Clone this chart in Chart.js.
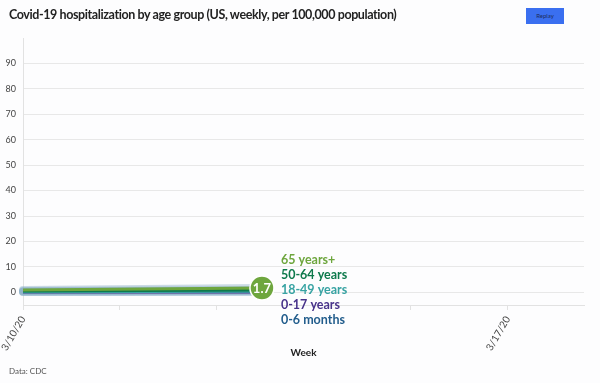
<!DOCTYPE html>
<html>
<head>
<meta charset="utf-8">
<script src="https://cdn.jsdelivr.net/npm/chart.js@4/dist/chart.umd.min.js"></script>
<style>
  html, body { margin:0; padding:0; background:#fdfdfe; }
  #wrap { position:relative; width:600px; height:383px; overflow:hidden; font-family:Lato, sans-serif; }
  #title { position:absolute; left:9px; top:7px; font-size:12.5px; letter-spacing:-0.4px; font-weight:700; color:#222; white-space:nowrap; }
  #btn { position:absolute; left:526px; top:8px; width:38px; height:16px; background:#3a6ff0; color:#1d2b5c; font-size:6px; line-height:16px; text-align:center; }
  #src { position:absolute; left:9px; top:366px; font-size:8px; color:#555; }
  canvas { position:absolute; left:0; top:0; }
</style>
</head>
<body>
<div id="wrap">
  <canvas id="c" width="600" height="383"></canvas>
  <div id="title">Covid-19 hospitalization by age group (US, weekly, per 100,000 population)</div>
  <div id="btn">Replay</div>
  <div id="src">Data: CDC</div>
</div>
<script>
// ---- data ----
const seriesNames = ['65 years+', '50-64 years', '18-49 years', '0-17 years', '0-6 months'];
const seriesColors = ['#6ea63e', '#0e7a4c', '#38a3a3', '#48338a', '#225d8c'];
const xDays = [0, 3.45];              // days since 3/10/20 (animation frame position)
const v65plus  = [0.9, 1.7];
const v50to64  = [0.5, 0.9];
const v18to49  = [0.2, 0.4];
const v0to17   = [0.1, 0.1];
const v0to6m   = [0.3, 0.5];
const xTickValues = [0, 1.4, 2.8, 4.2, 5.6, 7];
const xTickLabels = ['3/10/20', '', '', '', '', '3/17/20'];
const yTicks = [0, 10, 20, 30, 40, 50, 60, 70, 80, 90];

const seriesValues = [v65plus, v50to64, v18to49, v0to17, v0to6m];

const datasets = seriesNames.map((name, i) => ({
  label: name,
  data: xDays.map((x, j) => ({ x: x, y: seriesValues[i][j] })),
  borderColor: seriesColors[i],
  backgroundColor: seriesColors[i],
  borderWidth: 3,
  pointRadius: 0,
  tension: 0
}));

const haloPlugin = {
  id: 'halo',
  beforeDatasetsDraw(chart) {
    const ctx = chart.ctx;
    ctx.save();
    ctx.lineCap = 'round';
    ctx.lineJoin = 'round';
    ctx.strokeStyle = 'rgba(140,175,200,0.45)';
    ctx.lineWidth = 8;
    chart.data.datasets.forEach((ds, i) => {
      const pts = chart.getDatasetMeta(i).data;
      ctx.beginPath();
      pts.forEach((p, j) => j ? ctx.lineTo(p.x, p.y) : ctx.moveTo(p.x, p.y));
      ctx.stroke();
    });
    ctx.restore();
  }
};

const endLabelPlugin = {
  id: 'endLabels',
  afterDatasetsDraw(chart) {
    const ctx = chart.ctx;
    const meta = chart.getDatasetMeta(0);
    const p = meta.data[meta.data.length - 1];
    const ds = chart.data.datasets[0];
    const val = ds.data[ds.data.length - 1].y;
    ctx.save();
    ctx.beginPath();
    ctx.arc(p.x, p.y, 12, 0, Math.PI * 2);
    ctx.fillStyle = seriesColors[0];
    ctx.fill();
    ctx.lineWidth = 1.5;
    ctx.strokeStyle = '#ffffff';
    ctx.stroke();
    ctx.fillStyle = '#ffffff';
    ctx.font = 'bold 13px Lato';
    ctx.textAlign = 'center';
    ctx.textBaseline = 'middle';
    ctx.fillText(val.toFixed(1), p.x, p.y + 0.5);
    ctx.textAlign = 'left';
    ctx.font = 'bold 12.5px Lato';
    seriesNames.forEach((name, i) => {
      ctx.fillStyle = seriesColors[i];
      ctx.fillText(name, p.x + 19, p.y + (i - 2) * 15 + 2);
    });
    ctx.restore();
  }
};

Chart.defaults.font.family = 'Lato';

new Chart(document.getElementById('c'), {
  type: 'line',
  data: { datasets: datasets },
  options: {
    responsive: false,
    animation: false,
    layout: { padding: { left: 0, right: 16, top: 38, bottom: 24 } },
    plugins: { legend: { display: false }, tooltip: { enabled: false } },
    scales: {
      x: {
        type: 'linear',
        min: 0,
        max: 8.1,
        afterBuildTicks: axis => { axis.ticks = xTickValues.map(v => ({ value: v })); },
        afterFit: scale => { scale.height = 54; },
        ticks: {
          autoSkip: false,
          minRotation: 60,
          maxRotation: 60,
          padding: 4,
          color: '#444',
          font: { size: 10 },
          callback: (v, i) => xTickLabels[i]
        },
        grid: { drawOnChartArea: false, drawTicks: true, tickLength: 5, color: '#e2e2e2' },
        border: { color: '#e2e2e2' },
        title: { display: true, text: 'Week', color: '#222', font: { size: 10, weight: 'bold' }, padding: { top: 4, bottom: 0 } }
      },
      y: {
        min: -5,
        max: 100,
        afterBuildTicks: axis => { axis.ticks = yTicks.map(v => ({ value: v })); },
        afterFit: scale => { scale.width = 23; },
        ticks: { padding: 7, color: '#444', font: { size: 9 } },
        grid: { drawTicks: false, color: '#e8e8e8' },
        border: { color: '#e2e2e2' }
      }
    }
  },
  plugins: [haloPlugin, endLabelPlugin]
});
</script>
</body>
</html>
